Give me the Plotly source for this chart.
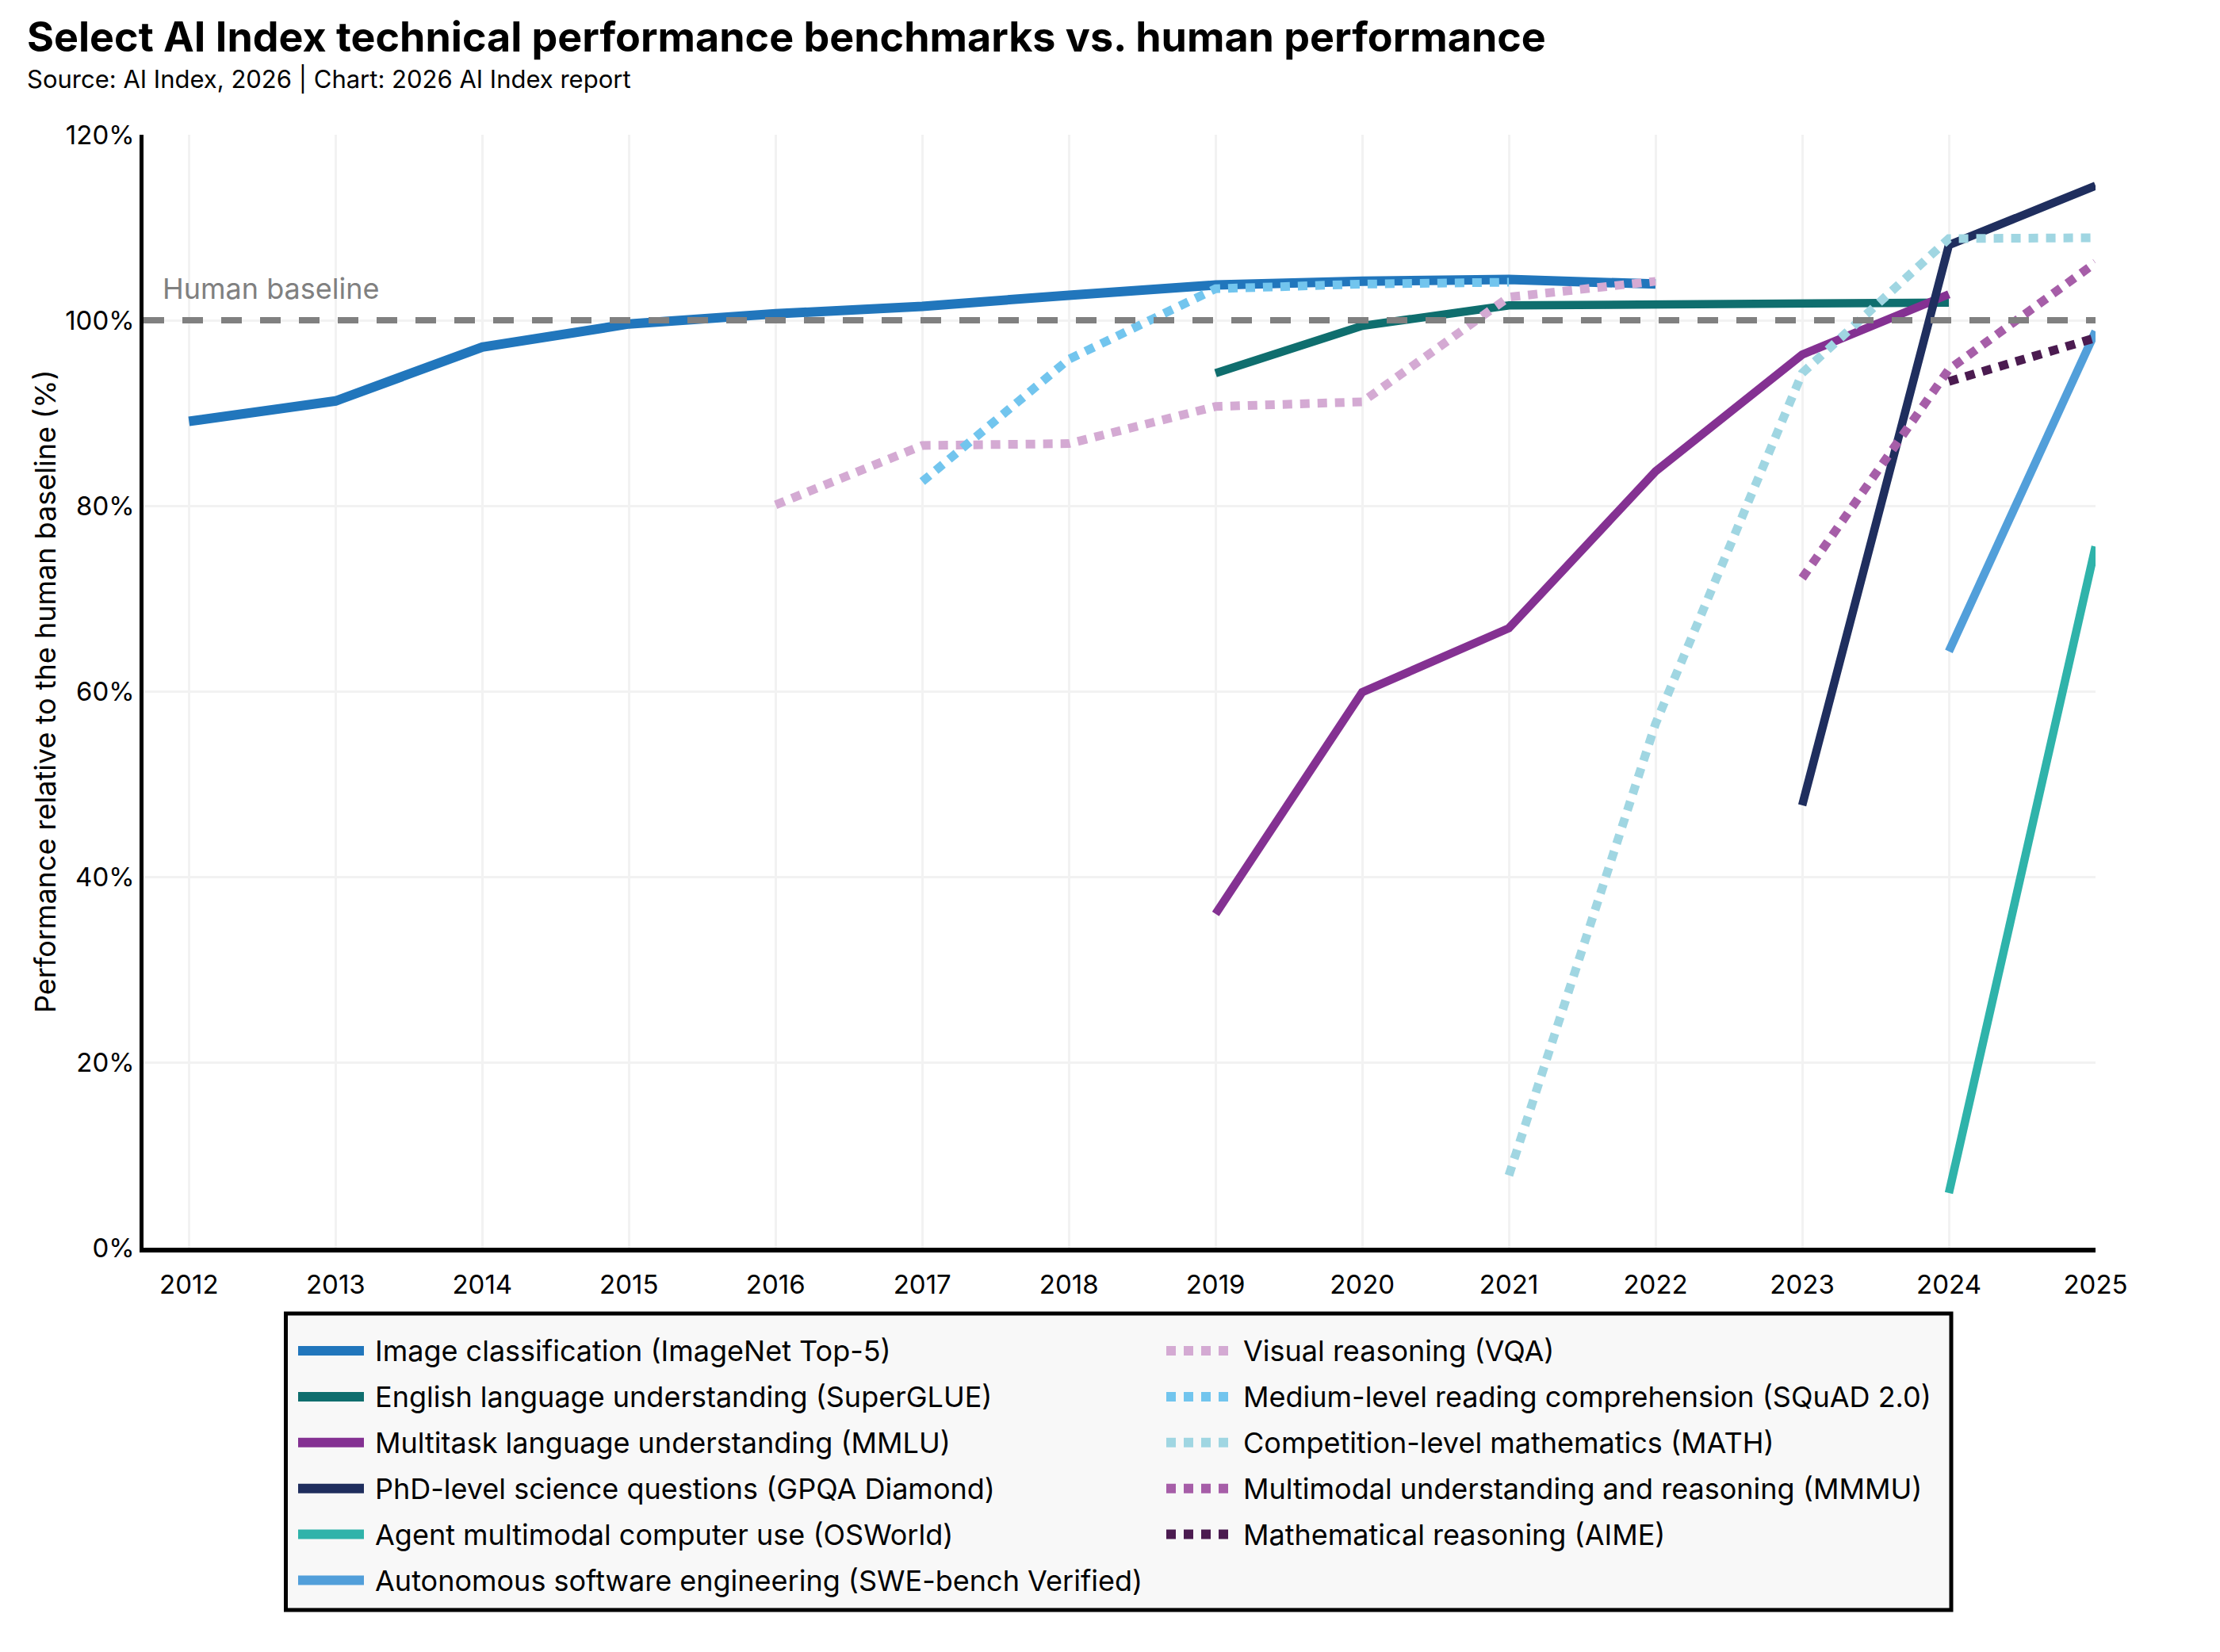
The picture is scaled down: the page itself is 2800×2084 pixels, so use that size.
import plotly.graph_objects as go

# values (% of human baseline), one point per year
benchmarks = [
    "Image classification (ImageNet Top-5)",
    "English language understanding (SuperGLUE)",
    "Multitask language understanding (MMLU)",
    "PhD-level science questions (GPQA Diamond)",
    "Agent multimodal computer use (OSWorld)",
    "Autonomous software engineering (SWE-bench Verified)",
    "Visual reasoning (VQA)",
    "Medium-level reading comprehension (SQuAD 2.0)",
    "Competition-level mathematics (MATH)",
    "Multimodal understanding and reasoning (MMMU)",
    "Mathematical reasoning (AIME)",
]
start_years = [2012, 2019, 2019, 2023, 2024, 2024, 2016, 2017, 2021, 2023, 2024]

imagenet = [89.1, 91.3, 97.1, 99.6, 100.7, 101.5, 102.7, 103.8, 104.2, 104.4, 103.9]
superglue = [94.3, 99.4, 101.6, 101.7, 101.9, 101.9]
mmlu = [36.0, 59.9, 66.8, 83.7, 96.3, 102.8]
gpqa = [47.7, 108.1, 114.5]
osworld = [5.9, 75.6]
swebench = [64.3, 98.8]
vqa = [80.1, 86.5, 86.7, 90.7, 91.2, 102.5, 104.2]
squad = [82.6, 95.8, 103.4, 103.9, 104.1]
math_comp = [7.8, 56.5, 94.3, 108.8, 108.9]
mmmu = [72.2, 94.7, 106.2]
aime = [93.4, 98.1]

series_values = [imagenet, superglue, mmlu, gpqa, osworld, swebench,
                 vqa, squad, math_comp, mmmu, aime]

colors = ["#2176BC", "#0F6E6E", "#843192", "#1F2E5E", "#2FB3AA", "#529FDA",
          "#D4AAD3", "#72C5EE", "#A0D6E2", "#A65EA8", "#4B1B50"]
dotted = [False] * 6 + [True] * 5

year_ticks = list(range(2012, 2026))
pct_ticks = [0, 20, 40, 60, 80, 100, 120]
pct_labels = [f"{v}%" for v in pct_ticks]
human_baseline = 100

FONT = "Inter"
W, H = 2800, 2084
L, R, T, B = 181, 157, 170, 510
PW, PH = W - L - R, H - T - B


def px_x(p):
    return (p - L) / PW


def px_y(p):
    return (T + PH - p) / PH


DOT = "12px,10px"

fig = go.Figure()

for name, start, vals, col, is_dot in zip(benchmarks, start_years, series_values, colors, dotted):
    fig.add_trace(go.Scatter(
        x=list(range(start, start + len(vals))),
        y=vals,
        mode="lines",
        name=name,
        line=dict(color=col, width=11 if is_dot else (12 if start == 2012 else 10.5),
                  dash=DOT if is_dot else "solid"),
        showlegend=False,
        hovertemplate="%{x}: %{y:.1f}%<extra>" + name + "</extra>",
    ))

# human baseline
fig.add_shape(type="line", xref="paper", yref="y", x0=0, x1=1,
              y0=human_baseline, y1=human_baseline, layer="above",
              line=dict(color="#808080", width=8, dash="26px,23px"))
fig.add_annotation(text="Human baseline", xref="paper", yref="y",
                   x=px_x(203), y=103.4, xanchor="left", yanchor="middle",
                   showarrow=False, font=dict(family=FONT, size=36, color="#808080"))

# legend box drawn by hand (two columns, long swatches)
fig.add_shape(type="rect", xref="paper", yref="paper",
              x0=px_x(360.5), x1=px_x(2461), y0=px_y(1657), y1=px_y(2031),
              fillcolor="#F8F8F8", line=dict(color="black", width=5), layer="below")
for i, (name, col, is_dot) in enumerate(zip(benchmarks, colors, dotted)):
    col_i = 1 if is_dot else 0
    row = i - 6 if is_dot else i
    sx = 376 if col_i == 0 else 1471
    ry = px_y(1704 + 57.9 * row)
    fig.add_shape(type="line", xref="paper", yref="paper",
                  x0=px_x(sx), x1=px_x(sx + 83), y0=ry, y1=ry,
                  line=dict(color=col, width=12, dash=DOT if is_dot else "solid"))
    fig.add_annotation(text=name, xref="paper", yref="paper",
                       x=px_x(sx + 95), y=ry, xanchor="left", yanchor="middle",
                       showarrow=False, font=dict(family=FONT, size=36, color="black"))

# title, subtitle, y title
fig.add_annotation(text="<b>Select AI Index technical performance benchmarks vs. human performance</b>",
                   xref="paper", yref="paper", x=px_x(32), y=px_y(46),
                   xanchor="left", yanchor="middle", showarrow=False,
                   font=dict(family=FONT, size=52, color="black"))
fig.add_annotation(text="Source: AI Index, 2026 | Chart: 2026 AI Index report",
                   xref="paper", yref="paper", x=px_x(32), y=px_y(100),
                   xanchor="left", yanchor="middle", showarrow=False,
                   font=dict(family=FONT, size=31, color="black"))
fig.add_annotation(text="Performance relative to the human baseline (%)",
                   xref="paper", yref="paper", x=px_x(57), y=0.5, textangle=-90,
                   xanchor="center", yanchor="middle", showarrow=False,
                   font=dict(family=FONT, size=36, color="black"))

fig.update_layout(
    width=W, height=H,
    margin=dict(l=L, r=R, t=T, b=B),
    paper_bgcolor="white", plot_bgcolor="white",
    font=dict(family=FONT, size=33, color="black"),
    showlegend=False,
)
fig.update_xaxes(
    range=[2011.69, 2025], tickvals=year_ticks, ticktext=[str(y) for y in year_ticks],
    showgrid=True, gridcolor="#F2F2F2", gridwidth=3,
    showline=True, linecolor="black", linewidth=6, zeroline=False,
    ticks="", ticklabelstandoff=12, tickfont=dict(family=FONT, size=33),
)
fig.update_yaxes(
    range=[0, 120], tickvals=pct_ticks, ticktext=pct_labels,
    showgrid=True, gridcolor="#F2F2F2", gridwidth=3,
    showline=True, linecolor="black", linewidth=4.5, zeroline=False,
    ticks="", ticklabelstandoff=0, tickfont=dict(family=FONT, size=33),
)

fig.write_html("out.html", config={"displayModeBar": False},
               post_script="document.body.style.margin='0';document.body.style.overflow='hidden';")
